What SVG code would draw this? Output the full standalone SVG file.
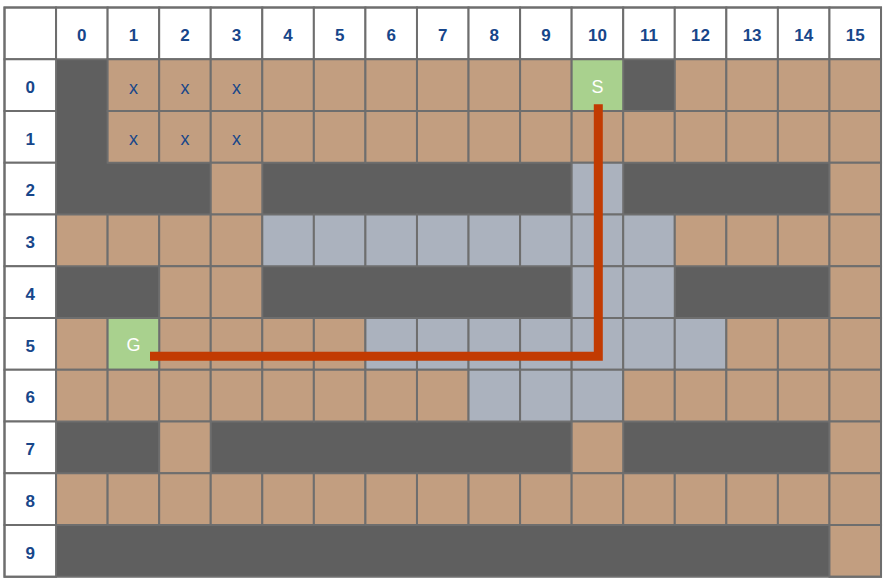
<svg xmlns="http://www.w3.org/2000/svg" width="890" height="584" viewBox="0 0 890 584">
<style>
rect { stroke: #6E6E6E; stroke-width: 2; }
.bg { fill: #ffffff; stroke: none; }
.h { fill: #ffffff; }
.t { fill: #C29E80; }
.b { fill: #ABB2BE; }
.g { fill: #A9D18E; }
.d { fill: #5F5F5F; stroke: none; }
.hl { font-family: "Liberation Sans", Arial, sans-serif; font-weight: bold; font-size: 17px; fill: #17468A; text-anchor: middle; }
.xl { font-family: "Liberation Sans", Arial, sans-serif; font-size: 18px; fill: #17468A; text-anchor: middle; }
.wl { font-family: "Liberation Sans", Arial, sans-serif; font-size: 18px; fill: #ffffff; text-anchor: middle; }
.frame { fill: none; stroke: #6E6E6E; stroke-width: 2; }
</style>
<rect class="bg" x="0" y="0" width="890" height="584"/>
<!-- dark walls (merged) -->
<rect id="walls" class="d" x="56.06" y="59.25" width="824.96" height="517.5"/>

<g id="header-row">
<rect class="h" x="4.5" y="7.5" width="51.56" height="51.75"/>
<rect class="h" x="56.06" y="7.5" width="51.56" height="51.75"/>
<rect class="h" x="107.62" y="7.5" width="51.56" height="51.75"/>
<rect class="h" x="159.18" y="7.5" width="51.56" height="51.75"/>
<rect class="h" x="210.74" y="7.5" width="51.56" height="51.75"/>
<rect class="h" x="262.3" y="7.5" width="51.56" height="51.75"/>
<rect class="h" x="313.86" y="7.5" width="51.56" height="51.75"/>
<rect class="h" x="365.42" y="7.5" width="51.56" height="51.75"/>
<rect class="h" x="416.98" y="7.5" width="51.56" height="51.75"/>
<rect class="h" x="468.54" y="7.5" width="51.56" height="51.75"/>
<rect class="h" x="520.1" y="7.5" width="51.56" height="51.75"/>
<rect class="h" x="571.66" y="7.5" width="51.56" height="51.75"/>
<rect class="h" x="623.22" y="7.5" width="51.56" height="51.75"/>
<rect class="h" x="674.78" y="7.5" width="51.56" height="51.75"/>
<rect class="h" x="726.34" y="7.5" width="51.56" height="51.75"/>
<rect class="h" x="777.9" y="7.5" width="51.56" height="51.75"/>
<rect class="h" x="829.46" y="7.5" width="51.56" height="51.75"/>
<text class="hl" x="81.84" y="41.1">0</text>
<text class="hl" x="133.4" y="41.1">1</text>
<text class="hl" x="184.96" y="41.1">2</text>
<text class="hl" x="236.52" y="41.1">3</text>
<text class="hl" x="288.08" y="41.1">4</text>
<text class="hl" x="339.64" y="41.1">5</text>
<text class="hl" x="391.2" y="41.1">6</text>
<text class="hl" x="442.76" y="41.1">7</text>
<text class="hl" x="494.32" y="41.1">8</text>
<text class="hl" x="545.88" y="41.1">9</text>
<text class="hl" x="597.44" y="41.1">10</text>
<text class="hl" x="649" y="41.1">11</text>
<text class="hl" x="700.56" y="41.1">12</text>
<text class="hl" x="752.12" y="41.1">13</text>
<text class="hl" x="803.68" y="41.1">14</text>
<text class="hl" x="855.24" y="41.1">15</text>
</g>

<g id="header-col">
<rect class="h" x="4.5" y="59.25" width="51.56" height="51.75"/>
<rect class="h" x="4.5" y="111" width="51.56" height="51.75"/>
<rect class="h" x="4.5" y="162.75" width="51.56" height="51.75"/>
<rect class="h" x="4.5" y="214.5" width="51.56" height="51.75"/>
<rect class="h" x="4.5" y="266.25" width="51.56" height="51.75"/>
<rect class="h" x="4.5" y="318" width="51.56" height="51.75"/>
<rect class="h" x="4.5" y="369.75" width="51.56" height="51.75"/>
<rect class="h" x="4.5" y="421.5" width="51.56" height="51.75"/>
<rect class="h" x="4.5" y="473.25" width="51.56" height="51.75"/>
<rect class="h" x="4.5" y="525" width="51.56" height="51.75"/>
<text class="hl" x="30.28" y="92.8">0</text>
<text class="hl" x="30.28" y="144.6">1</text>
<text class="hl" x="30.28" y="196.3">2</text>
<text class="hl" x="30.28" y="248.1">3</text>
<text class="hl" x="30.28" y="299.8">4</text>
<text class="hl" x="30.28" y="351.6">5</text>
<text class="hl" x="30.28" y="403.3">6</text>
<text class="hl" x="30.28" y="455.1">7</text>
<text class="hl" x="30.28" y="506.8">8</text>
<text class="hl" x="30.28" y="558.6">9</text>
</g>

<g id="row-0">
<rect class="t" x="107.62" y="59.25" width="51.56" height="51.75"/>
<rect class="t" x="159.18" y="59.25" width="51.56" height="51.75"/>
<rect class="t" x="210.74" y="59.25" width="51.56" height="51.75"/>
<rect class="t" x="262.3" y="59.25" width="51.56" height="51.75"/>
<rect class="t" x="313.86" y="59.25" width="51.56" height="51.75"/>
<rect class="t" x="365.42" y="59.25" width="51.56" height="51.75"/>
<rect class="t" x="416.98" y="59.25" width="51.56" height="51.75"/>
<rect class="t" x="468.54" y="59.25" width="51.56" height="51.75"/>
<rect class="t" x="520.1" y="59.25" width="51.56" height="51.75"/>
<rect class="t" x="674.78" y="59.25" width="51.56" height="51.75"/>
<rect class="t" x="726.34" y="59.25" width="51.56" height="51.75"/>
<rect class="t" x="777.9" y="59.25" width="51.56" height="51.75"/>
<rect class="t" x="829.46" y="59.25" width="51.56" height="51.75"/>
<text class="xl" x="133.4" y="93.6">x</text>
<text class="xl" x="184.96" y="93.6">x</text>
<text class="xl" x="236.52" y="93.6">x</text>
</g>

<g id="start">
<rect class="g" x="571.66" y="59.25" width="51.56" height="51.75"/>
<text class="wl" x="597.44" y="92.7">S</text>
</g>

<g id="row-1">
<rect class="t" x="107.62" y="111" width="51.56" height="51.75"/>
<rect class="t" x="159.18" y="111" width="51.56" height="51.75"/>
<rect class="t" x="210.74" y="111" width="51.56" height="51.75"/>
<rect class="t" x="262.3" y="111" width="51.56" height="51.75"/>
<rect class="t" x="313.86" y="111" width="51.56" height="51.75"/>
<rect class="t" x="365.42" y="111" width="51.56" height="51.75"/>
<rect class="t" x="416.98" y="111" width="51.56" height="51.75"/>
<rect class="t" x="468.54" y="111" width="51.56" height="51.75"/>
<rect class="t" x="520.1" y="111" width="51.56" height="51.75"/>
<rect class="t" x="571.66" y="111" width="51.56" height="51.75"/>
<rect class="t" x="623.22" y="111" width="51.56" height="51.75"/>
<rect class="t" x="674.78" y="111" width="51.56" height="51.75"/>
<rect class="t" x="726.34" y="111" width="51.56" height="51.75"/>
<rect class="t" x="777.9" y="111" width="51.56" height="51.75"/>
<rect class="t" x="829.46" y="111" width="51.56" height="51.75"/>
<text class="xl" x="133.4" y="145.4">x</text>
<text class="xl" x="184.96" y="145.4">x</text>
<text class="xl" x="236.52" y="145.4">x</text>
</g>

<g id="row-2">
<rect class="t" x="210.74" y="162.75" width="51.56" height="51.75"/>
<rect class="b" x="571.66" y="162.75" width="51.56" height="51.75"/>
<rect class="t" x="829.46" y="162.75" width="51.56" height="51.75"/>
</g>

<g id="row-3">
<rect class="t" x="56.06" y="214.5" width="51.56" height="51.75"/>
<rect class="t" x="107.62" y="214.5" width="51.56" height="51.75"/>
<rect class="t" x="159.18" y="214.5" width="51.56" height="51.75"/>
<rect class="t" x="210.74" y="214.5" width="51.56" height="51.75"/>
<rect class="b" x="262.3" y="214.5" width="51.56" height="51.75"/>
<rect class="b" x="313.86" y="214.5" width="51.56" height="51.75"/>
<rect class="b" x="365.42" y="214.5" width="51.56" height="51.75"/>
<rect class="b" x="416.98" y="214.5" width="51.56" height="51.75"/>
<rect class="b" x="468.54" y="214.5" width="51.56" height="51.75"/>
<rect class="b" x="520.1" y="214.5" width="51.56" height="51.75"/>
<rect class="b" x="571.66" y="214.5" width="51.56" height="51.75"/>
<rect class="b" x="623.22" y="214.5" width="51.56" height="51.75"/>
<rect class="t" x="674.78" y="214.5" width="51.56" height="51.75"/>
<rect class="t" x="726.34" y="214.5" width="51.56" height="51.75"/>
<rect class="t" x="777.9" y="214.5" width="51.56" height="51.75"/>
<rect class="t" x="829.46" y="214.5" width="51.56" height="51.75"/>
</g>

<g id="row-4">
<rect class="t" x="159.18" y="266.25" width="51.56" height="51.75"/>
<rect class="t" x="210.74" y="266.25" width="51.56" height="51.75"/>
<rect class="b" x="571.66" y="266.25" width="51.56" height="51.75"/>
<rect class="b" x="623.22" y="266.25" width="51.56" height="51.75"/>
<rect class="t" x="829.46" y="266.25" width="51.56" height="51.75"/>
</g>

<g id="row-5">
<rect class="t" x="56.06" y="318" width="51.56" height="51.75"/>
<rect class="t" x="159.18" y="318" width="51.56" height="51.75"/>
<rect class="t" x="210.74" y="318" width="51.56" height="51.75"/>
<rect class="t" x="262.3" y="318" width="51.56" height="51.75"/>
<rect class="t" x="313.86" y="318" width="51.56" height="51.75"/>
<rect class="b" x="365.42" y="318" width="51.56" height="51.75"/>
<rect class="b" x="416.98" y="318" width="51.56" height="51.75"/>
<rect class="b" x="468.54" y="318" width="51.56" height="51.75"/>
<rect class="b" x="520.1" y="318" width="51.56" height="51.75"/>
<rect class="b" x="571.66" y="318" width="51.56" height="51.75"/>
<rect class="b" x="623.22" y="318" width="51.56" height="51.75"/>
<rect class="b" x="674.78" y="318" width="51.56" height="51.75"/>
<rect class="t" x="726.34" y="318" width="51.56" height="51.75"/>
<rect class="t" x="777.9" y="318" width="51.56" height="51.75"/>
<rect class="t" x="829.46" y="318" width="51.56" height="51.75"/>
</g>

<g id="goal">
<rect class="g" x="107.62" y="318" width="51.56" height="51.75"/>
<text class="wl" x="133.4" y="350.6">G</text>
</g>

<g id="row-6">
<rect class="t" x="56.06" y="369.75" width="51.56" height="51.75"/>
<rect class="t" x="107.62" y="369.75" width="51.56" height="51.75"/>
<rect class="t" x="159.18" y="369.75" width="51.56" height="51.75"/>
<rect class="t" x="210.74" y="369.75" width="51.56" height="51.75"/>
<rect class="t" x="262.3" y="369.75" width="51.56" height="51.75"/>
<rect class="t" x="313.86" y="369.75" width="51.56" height="51.75"/>
<rect class="t" x="365.42" y="369.75" width="51.56" height="51.75"/>
<rect class="t" x="416.98" y="369.75" width="51.56" height="51.75"/>
<rect class="b" x="468.54" y="369.75" width="51.56" height="51.75"/>
<rect class="b" x="520.1" y="369.75" width="51.56" height="51.75"/>
<rect class="b" x="571.66" y="369.75" width="51.56" height="51.75"/>
<rect class="t" x="623.22" y="369.75" width="51.56" height="51.75"/>
<rect class="t" x="674.78" y="369.75" width="51.56" height="51.75"/>
<rect class="t" x="726.34" y="369.75" width="51.56" height="51.75"/>
<rect class="t" x="777.9" y="369.75" width="51.56" height="51.75"/>
<rect class="t" x="829.46" y="369.75" width="51.56" height="51.75"/>
</g>

<g id="row-7">
<rect class="t" x="159.18" y="421.5" width="51.56" height="51.75"/>
<rect class="t" x="571.66" y="421.5" width="51.56" height="51.75"/>
<rect class="t" x="829.46" y="421.5" width="51.56" height="51.75"/>
</g>

<g id="row-8">
<rect class="t" x="56.06" y="473.25" width="51.56" height="51.75"/>
<rect class="t" x="107.62" y="473.25" width="51.56" height="51.75"/>
<rect class="t" x="159.18" y="473.25" width="51.56" height="51.75"/>
<rect class="t" x="210.74" y="473.25" width="51.56" height="51.75"/>
<rect class="t" x="262.3" y="473.25" width="51.56" height="51.75"/>
<rect class="t" x="313.86" y="473.25" width="51.56" height="51.75"/>
<rect class="t" x="365.42" y="473.25" width="51.56" height="51.75"/>
<rect class="t" x="416.98" y="473.25" width="51.56" height="51.75"/>
<rect class="t" x="468.54" y="473.25" width="51.56" height="51.75"/>
<rect class="t" x="520.1" y="473.25" width="51.56" height="51.75"/>
<rect class="t" x="571.66" y="473.25" width="51.56" height="51.75"/>
<rect class="t" x="623.22" y="473.25" width="51.56" height="51.75"/>
<rect class="t" x="674.78" y="473.25" width="51.56" height="51.75"/>
<rect class="t" x="726.34" y="473.25" width="51.56" height="51.75"/>
<rect class="t" x="777.9" y="473.25" width="51.56" height="51.75"/>
<rect class="t" x="829.46" y="473.25" width="51.56" height="51.75"/>
</g>

<g id="row-9">
<rect class="t" x="829.46" y="525" width="51.56" height="51.75"/>
</g>

<rect class="frame" x="4.5" y="7.5" width="876.52" height="569.25"/>

<g id="connectors">
<polyline points="598.3,104.3 598.3,356.3 150,356.3" fill="none" stroke="#C23B02" stroke-width="9" stroke-linecap="butt" stroke-linejoin="miter"/>
</g>
</svg>
